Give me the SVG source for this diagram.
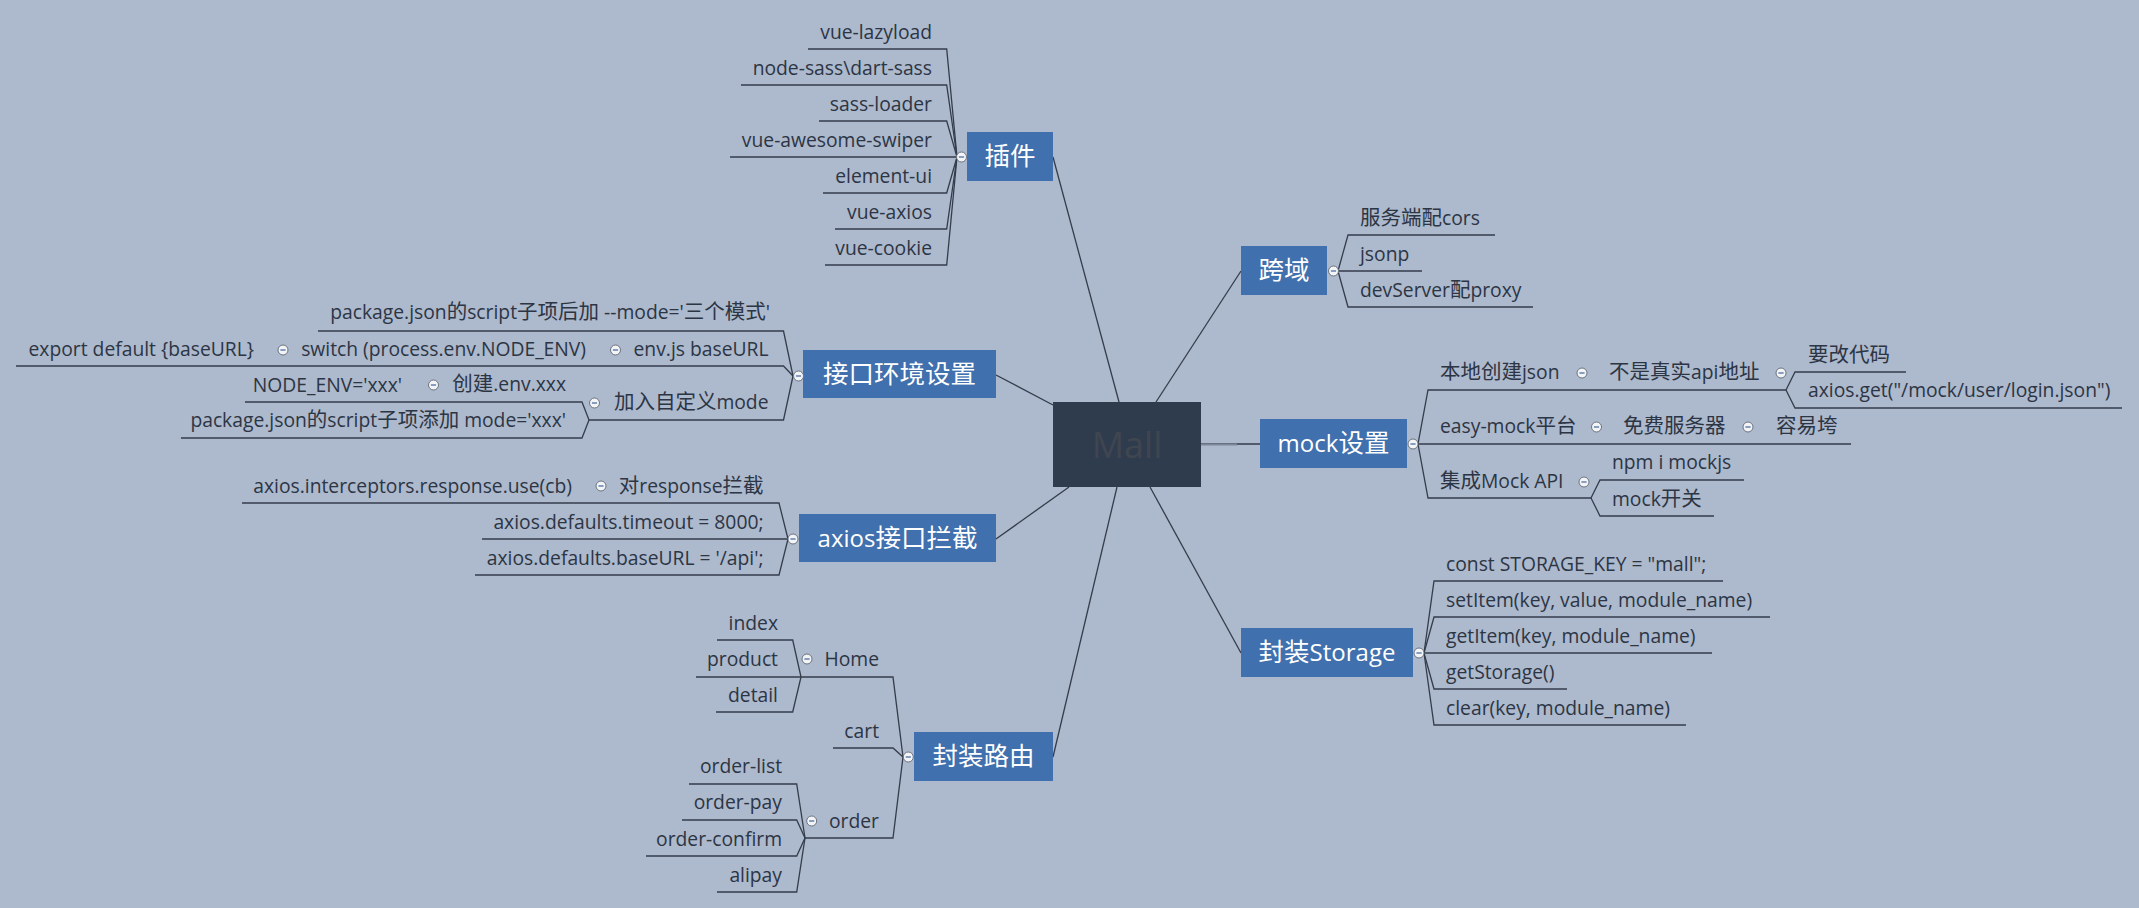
<svg xmlns="http://www.w3.org/2000/svg" xmlns:xlink="http://www.w3.org/1999/xlink" width="2139" height="908" viewBox="0 0 2139 908">
<defs>
<style>
.t{font-family:"Open Sans","Noto Sans CJK SC",sans-serif;font-size:19.3px;fill:#2c3544}
.e{text-anchor:end}
.k{font-size:20.5px}
.kb{font-size:25.5px}
.b{fill:#4070ad}
.bt{font-family:"Open Sans","Noto Sans CJK SC",sans-serif;font-size:24px;fill:#ffffff;text-anchor:middle}
.ln{fill:none;stroke:#333d4b;stroke-width:1.3}
</style>
<symbol id="col" viewBox="-6 -6 12 12" overflow="visible">
<circle r="5" fill="#f3f4f6" stroke="#6b7380" stroke-width="1"/>
<line x1="-2.6" y1="0" x2="2.6" y2="0" stroke="#5a78a8" stroke-width="1.4"/>
</symbol>
</defs>
<rect width="2139" height="908" fill="#adb9cc"/>

<g id="connectors" class="ln">
<path d="M1053,157 L1119,402"/>
<path d="M1156,402 L1241,271"/>
<path d="M996,375 L1053,405"/>
<path d="M1201,444 L1260,444"/>
<path d="M996,539 L1069,487"/>
<path d="M1053,757 L1117,487"/>
<path d="M1150,487 L1241,653"/>
<path d="M957,157 L946.7,49 H808"/>
<path d="M957,157 L946.7,85 H741"/>
<path d="M957,157 L946.7,121 H819"/>
<path d="M957,157 H730"/>
<path d="M957,157 L946.7,193 H823"/>
<path d="M957,157 L946.7,229 H835"/>
<path d="M957,157 L946.7,265 H825"/>
<path d="M1338,271 L1348,235 H1495"/>
<path d="M1338,271 H1422"/>
<path d="M1338,271 L1348,307 H1533"/>
<path d="M1418,444 L1428,390 H1786"/>
<path d="M1786,390 L1795,372 H1906"/>
<path d="M1786,390 L1795,408 H2122"/>
<path d="M1418,444 H1851"/>
<path d="M1418,444 L1428,498 H1591"/>
<path d="M1591,498 L1600,480 H1744"/>
<path d="M1591,498 L1600,516 H1714"/>
<path d="M1424,653 L1434,581 H1723"/>
<path d="M1424,653 L1434,617 H1770"/>
<path d="M1424,653 H1712"/>
<path d="M1424,653 L1434,689 H1567"/>
<path d="M1424,653 L1434,725 H1686"/>
<path d="M793,376 L783.5,331 H318"/>
<path d="M793,376 L783.5,366 H16"/>
<path d="M793,376 L783.5,420 H589"/>
<path d="M589,420 L582,402 H245"/>
<path d="M589,420 L582,438 H181"/>
<path d="M788,539 L779,503 H242"/>
<path d="M788,539 H482"/>
<path d="M788,539 L779,575 H475"/>
<path d="M903,757 L893,677 H696"/>
<path d="M801,677 L792.7,640 H717"/>
<path d="M801,677 L792.7,712 H716"/>
<path d="M903,757 L893,748 H833"/>
<path d="M903,757 L893,838 H805"/>
<path d="M805,838 L796.7,784 H689"/>
<path d="M805,838 L796.7,820 H682"/>
<path d="M805,838 L796.7,856 H646"/>
<path d="M805,838 L796.7,892 H717"/>
<line x1="1201" y1="444.5" x2="1237" y2="444.5" stroke="#7d8898" stroke-width="2"/>
</g>

<g id="mall">
<rect x="1053" y="402" width="148" height="85" fill="#2f3c4e"/>
<text x="1127" y="458" font-family="Open Sans, sans-serif" font-size="36" fill="#404650" text-anchor="middle">Mall</text>
</g>

<g id="plugins">
<rect class="b" x="967" y="132" width="86" height="49"/>
<text class="bt" x="1010" y="165"><tspan class="kb">插件</tspan></text>
<use xlink:href="#col" x="955.5" y="151" width="12" height="12"/>
<text class="t e" x="932" y="39">vue-lazyload</text>
<text class="t e" x="932" y="75">node-sass\dart-sass</text>
<text class="t e" x="932" y="111">sass-loader</text>
<text class="t e" x="932" y="147">vue-awesome-swiper</text>
<text class="t e" x="932" y="183">element-ui</text>
<text class="t e" x="932" y="219">vue-axios</text>
<text class="t e" x="932" y="255">vue-cookie</text>
</g>

<g id="cors">
<rect class="b" x="1241" y="246" width="86" height="49"/>
<text class="bt" x="1284" y="279"><tspan class="kb">跨域</tspan></text>
<use xlink:href="#col" x="1327.5" y="265" width="12" height="12"/>
<text class="t" x="1360" y="225"><tspan class="k">服务端配</tspan>cors</text>
<text class="t" x="1360" y="261">jsonp</text>
<text class="t" x="1360" y="297">devServer<tspan class="k">配</tspan>proxy</text>
</g>

<g id="mock">
<rect class="b" x="1260" y="419" width="147" height="49"/>
<text class="bt" x="1333.5" y="452">mock<tspan class="kb">设置</tspan></text>
<use xlink:href="#col" x="1407" y="438" width="12" height="12"/>
<text class="t" x="1440" y="379"><tspan class="k">本地创建</tspan>json</text>
<use xlink:href="#col" x="1576" y="367" width="12" height="12"/>
<text class="t" x="1609" y="379"><tspan class="k">不是真实</tspan>api<tspan class="k">地址</tspan></text>
<use xlink:href="#col" x="1775" y="367" width="12" height="12"/>
<text class="t" x="1808" y="362"><tspan class="k">要改代码</tspan></text>
<text class="t" x="1808" y="397">axios.get("/mock/user/login.json")</text>
<text class="t" x="1440" y="433">easy-mock<tspan class="k">平台</tspan></text>
<use xlink:href="#col" x="1590.5" y="421" width="12" height="12"/>
<text class="t" x="1623" y="433"><tspan class="k">免费服务器</tspan></text>
<use xlink:href="#col" x="1742" y="421" width="12" height="12"/>
<text class="t" x="1776" y="433"><tspan class="k">容易垮</tspan></text>
<text class="t" x="1440" y="488"><tspan class="k">集成</tspan>Mock API</text>
<use xlink:href="#col" x="1578" y="476" width="12" height="12"/>
<text class="t" x="1612" y="469">npm i mockjs</text>
<text class="t" x="1612" y="506">mock<tspan class="k">开关</tspan></text>
</g>

<g id="storage">
<rect class="b" x="1241" y="628" width="172" height="49"/>
<text class="bt" x="1327" y="661"><tspan class="kb">封装</tspan>Storage</text>
<use xlink:href="#col" x="1413" y="647" width="12" height="12"/>
<text class="t" x="1446" y="571">const STORAGE_KEY = "mall";</text>
<text class="t" x="1446" y="607">setItem(key, value, module_name)</text>
<text class="t" x="1446" y="643">getItem(key, module_name)</text>
<text class="t" x="1446" y="679">getStorage()</text>
<text class="t" x="1446" y="715">clear(key, module_name)</text>
</g>

<g id="env">
<rect class="b" x="803" y="350" width="193" height="48"/>
<text class="bt" x="899.5" y="383"><tspan class="kb">接口环境设置</tspan></text>
<use xlink:href="#col" x="792.5" y="370" width="12" height="12"/>
<text class="t e" x="770" y="319">package.json<tspan class="k">的</tspan>script<tspan class="k">子项后加</tspan> --mode='<tspan class="k">三个模式</tspan>'</text>
<text class="t e" x="768.5" y="356">env.js baseURL</text>
<use xlink:href="#col" x="609.5" y="344" width="12" height="12"/>
<text class="t e" x="586" y="356">switch (process.env.NODE_ENV)</text>
<use xlink:href="#col" x="277" y="344" width="12" height="12"/>
<text class="t e" x="254" y="356">export default {baseURL}</text>
<text class="t e" x="768.5" y="409"><tspan class="k">加入自定义</tspan>mode</text>
<use xlink:href="#col" x="588.5" y="397" width="12" height="12"/>
<text class="t e" x="566" y="391"><tspan class="k">创建</tspan>.env.xxx</text>
<use xlink:href="#col" x="427.5" y="379" width="12" height="12"/>
<text class="t e" x="402" y="392">NODE_ENV='xxx'</text>
<text class="t e" x="566" y="427">package.json<tspan class="k">的</tspan>script<tspan class="k">子项添加</tspan> mode='xxx'</text>
</g>

<g id="axios">
<rect class="b" x="799" y="514" width="197" height="48"/>
<text class="bt" x="897.5" y="547">axios<tspan class="kb">接口拦截</tspan></text>
<use xlink:href="#col" x="787" y="533" width="12" height="12"/>
<text class="t e" x="763.5" y="493"><tspan class="k">对</tspan>response<tspan class="k">拦截</tspan></text>
<use xlink:href="#col" x="595" y="480" width="12" height="12"/>
<text class="t e" x="572" y="493">axios.interceptors.response.use(cb)</text>
<text class="t e" x="763.5" y="529">axios.defaults.timeout = 8000;</text>
<text class="t e" x="763.5" y="565">axios.defaults.baseURL = '/api';</text>
</g>

<g id="router">
<rect class="b" x="914" y="732" width="139" height="49"/>
<text class="bt" x="983.5" y="765"><tspan class="kb">封装路由</tspan></text>
<use xlink:href="#col" x="902.3" y="751" width="12" height="12"/>
<text class="t e" x="879" y="666">Home</text>
<use xlink:href="#col" x="801" y="653" width="12" height="12"/>
<text class="t e" x="778" y="630">index</text>
<text class="t e" x="778" y="666">product</text>
<text class="t e" x="778" y="702">detail</text>
<text class="t e" x="879" y="738">cart</text>
<text class="t e" x="879" y="828">order</text>
<use xlink:href="#col" x="805.7" y="815" width="12" height="12"/>
<text class="t e" x="782" y="773">order-list</text>
<text class="t e" x="782" y="809">order-pay</text>
<text class="t e" x="782" y="846">order-confirm</text>
<text class="t e" x="782" y="882">alipay</text>
</g>
</svg>
